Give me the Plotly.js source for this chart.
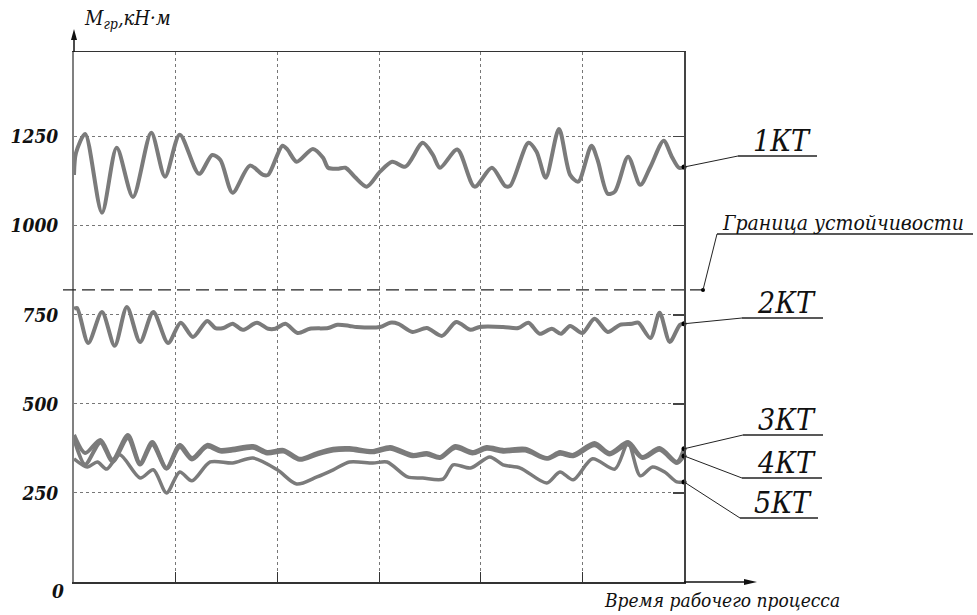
<!DOCTYPE html>
<html><head><meta charset="utf-8">
<script src="https://cdn.plot.ly/plotly-3.0.1.min.js"></script>
<style>html,body{margin:0;padding:0;background:#fff}</style>
</head><body><div id="chart" style="width:977px;height:615px"></div>
<script>
// ---- data (time in arbitrary units 0..60, moment in kN·m) ----
const t1 = [0,0.2,1.1,2.75,4.2,5.8,7.6,8.95,10.4,12.3,13.6,14.4,15.6,17.3,18.6,19.1,20.5,21.0,21.9,23.5,24.5,25.0,25.9,26.7,27.6,28.8,30.1,31.3,32.6,34.3,35.3,36.0,37.7,39.4,41.1,42.4,42.9,44.7,45.5,46.4,47.7,48.8,49.6,50.9,51.5,52.5,53.2,54.5,55.7,56.7,58.0,58.8,59.5,60];
const kt1 = [1143,1205,1258,1037,1219,1081,1261,1138,1256,1146,1199,1185,1093,1169,1143,1143,1225,1214,1180,1216,1191,1163,1160,1163,1138,1110,1152,1180,1166,1233,1199,1163,1214,1110,1163,1112,1112,1233,1208,1135,1272,1143,1124,1225,1185,1090,1096,1194,1115,1166,1239,1194,1163,1165];

const t2 = [0,0.3,1.4,2.75,4.0,5.2,6.5,7.8,9.25,10.5,11.7,13.1,13.9,14.7,15.6,16.6,18.0,19.1,19.8,20.8,22.0,23.2,25.0,25.9,27.1,27.8,30.1,31.1,31.9,33.3,34.7,36.2,37.6,39.0,39.9,42.2,43.7,44.7,45.8,47.0,47.9,48.8,50.0,51.2,52.5,53.7,54.9,55.5,56.7,57.6,58.6,59.6,60];
const kt2 = [767,769,671,758,663,772,674,758,671,728,688,733,713,713,725,708,728,711,711,725,699,711,713,722,719,716,716,728,725,702,713,691,730,708,716,716,713,728,697,711,697,719,699,739,702,722,725,728,685,756,674,722,725];

const t34 = [0,1.1,2.6,3.8,5.3,6.5,7.7,9.1,10.4,11.6,13.1,14.4,15.6,17.6,19.0,20.6,22.2,23.9,25.5,27.1,29.4,31.1,33.3,34.7,36.0,37.5,39.2,40.6,42.2,44.4,46.5,47.8,49.1,51.2,52.7,54.5,55.9,57.6,59.3,60];
const kt3 = [413,362,399,343,413,334,393,320,385,348,385,371,374,382,365,371,346,362,374,376,368,379,357,362,351,382,365,379,371,374,348,365,357,390,362,393,351,376,337,374];
const kt4 = [403,330,392,338,404,330,386,318,379,344,380,366,369,377,361,366,343,358,369,371,364,374,353,358,348,377,361,374,366,369,346,360,353,384,358,386,348,371,334,354];

const t5 = [0,1.3,2.3,3.2,4.5,6.5,7.8,9.1,10.4,11.6,13.4,15.6,17.6,20.0,21.9,23.9,25.5,27.1,29.4,30.8,32.8,34.3,36.3,37.3,39.0,40.9,42.2,43.9,46.5,47.8,49.1,51.0,53.2,54.5,55.7,56.9,58.1,59.3,60];
const kt5 = [346,323,337,317,357,292,315,250,309,284,337,334,348,315,275,295,315,337,334,337,295,292,289,329,320,351,329,320,278,309,287,346,317,390,298,323,309,281,281];

const stabilityLimit = 820;
const yTicks = [250,500,750,1000,1250];
const yTickText = ['250','500','750','1000','1250'];
const xGrid = [10,20,30,40,50];
const seriesNames = ['1КТ','2КТ','3КТ','4КТ','5КТ'];
const yMax = 1488, tMax = 60;

// ---- styling helpers (pixel -> paper for decorations) ----
const PL = 74, PR = 684, PT = 52, PB = 582;
const px = x => (x - PL) / (PR - PL);
const py = y => (PB - y) / (PB - PT);
const dv = v => v / yMax;
const SERIF = 'DejaVu Serif Condensed, DejaVu Serif';
const GRAY = '#7b7b7b';

const curve = (x, y, w) => ({x, y, type:'scatter', mode:'lines', line:{color:GRAY, width:w, shape:'spline', smoothing:0.8}, hoverinfo:'skip', showlegend:false});
const traces = [
  curve(t1, kt1, 4),
  curve(t2, kt2, 4),
  curve(t34, kt3, 4),
  curve(t34, kt4, 4),
  curve(t5, kt5, 3.5),
  {x:[tMax,tMax,tMax,tMax,tMax], y:[kt1[kt1.length-1], kt2[kt2.length-1], kt3[kt3.length-1], kt4[kt4.length-1], kt5[kt5.length-1]],
   type:'scatter', mode:'markers', marker:{color:'#000', size:5}, cliponaxis:false, yaxis:'y2', showlegend:false, hoverinfo:'skip'}
];

const shapes = [];
const seg = (x0,y0,x1,y1,w,c,dash) => shapes.push({type:'line', xref:'paper', yref:'paper', x0, y0, x1, y1, line:{color:c||'#222', width:w||1, dash:dash||'solid'}});

// stability limit
shapes.push({type:'line', xref:'paper', yref:'y', x0:px(63), x1:px(703), y0:stabilityLimit, y1:stabilityLimit, line:{color:'#222', width:1.3, dash:'13px,6px'}});
shapes.push({type:'circle', xref:'paper', yref:'paper', x0:px(701), x1:px(705), y0:dv(stabilityLimit)-2/530, y1:dv(stabilityLimit)+2/530, fillcolor:'#000', line:{width:0}});

// axis arrows (drawn as shapes)
seg(px(74), py(52), px(74), py(36), 1.5, '#111');
shapes.push({type:'path', xref:'paper', yref:'paper', path:`M ${px(71)} ${py(40)} L ${px(74)} ${py(29)} L ${px(77)} ${py(40)} Z`, fillcolor:'#111', line:{width:0}});
seg(px(684), py(582), px(748), py(582), 1.5, '#111');
shapes.push({type:'path', xref:'paper', yref:'paper', path:`M ${px(744)} ${py(579)} L ${px(757)} ${py(582)} L ${px(744)} ${py(585)} Z`, fillcolor:'#111', line:{width:0}});

// leaders: [endValue, underline start px x, underline end px x, underline px y, label]
const leaders = [
  [kt1[kt1.length-1], 738, 817, 156, seriesNames[0]],
  [kt2[kt2.length-1], 742, 823, 318, seriesNames[1]],
  [kt3[kt3.length-1], 743, 823, 435, seriesNames[2]],
  [kt4[kt4.length-1], 742, 822, 478, seriesNames[3]],
  [kt5[kt5.length-1], 740, 818, 518, seriesNames[4]]
];
const annotations = [];
leaders.forEach(([v, xa, xb, yu, name]) => {
  seg(px(PR), dv(v), px(xa), py(yu), 1, '#222');
  seg(px(xa), py(yu), px(xb), py(yu), 1.3, '#222');
  annotations.push({xref:'paper', yref:'paper', x:px((xa+xb)/2 + 4), y:py(yu), xanchor:'center', yanchor:'bottom', yshift:-4,
    text:name, showarrow:false, font:{family:SERIF, size:30, style:'italic', color:'#111'}});
});
// stability label
seg(px(703), dv(stabilityLimit), px(717), py(234), 1, '#222');
seg(px(717), py(234), px(973), py(234), 1.3, '#222');
annotations.push({xref:'paper', yref:'paper', x:px(843), y:py(234), xanchor:'center', yanchor:'bottom', yshift:-3,
  text:'Граница устойчивости', showarrow:false, font:{family:SERIF, size:21, style:'italic', color:'#111'}});

// axis titles, zero label
annotations.push({xref:'paper', yref:'paper', x:px(82), y:py(19), xanchor:'left', yanchor:'middle',
  text:'М<sub>гр</sub>,кН·м', showarrow:false, font:{family:SERIF, size:20, style:'italic', color:'#111'}});
annotations.push({xref:'paper', yref:'paper', x:px(722), y:py(600), xanchor:'center', yanchor:'middle',
  text:'Время рабочего процесса', showarrow:false, font:{family:SERIF, size:19, style:'italic', color:'#111'}});
annotations.push({xref:'paper', yref:'paper', x:px(66), y:py(591), xanchor:'right', yanchor:'middle',
  text:'0', showarrow:false, font:{family:SERIF, size:19, style:'italic', weight:'bold', color:'#111'}});

const gridStyle = {showgrid:true, gridcolor:'#777', griddash:'dot', gridwidth:1};
const layout = {
  width:977, height:615,
  margin:{l:PL, r:977-PR, t:PT, b:615-PB, pad:0},
  paper_bgcolor:'#fff', plot_bgcolor:'#fff',
  showlegend:false,
  font:{family:SERIF},
  xaxis:Object.assign({range:[0,tMax], tickmode:'array', tickvals:xGrid, showticklabels:false, ticks:'inside', ticklen:10, tickcolor:'#333', tickwidth:1,
    showline:true, linecolor:'#333', linewidth:1.5, mirror:true, zeroline:false, fixedrange:true}, gridStyle),
  yaxis:Object.assign({range:[0,yMax], tickmode:'array', tickvals:yTicks, ticktext:yTickText, ticks:'', ticklabelstandoff:10,
    tickfont:{family:SERIF, size:19, style:'italic', weight:'bold', color:'#111'},
    showline:true, linecolor:'#808080', linewidth:2, zeroline:false, fixedrange:true}, gridStyle),
  yaxis2:{overlaying:'y', side:'right', anchor:'x', range:[0,yMax], tickmode:'array', tickvals:yTicks, showticklabels:false,
    ticks:'inside', ticklen:11, tickcolor:'#444', tickwidth:1.3, showgrid:false, zeroline:false,
    showline:true, linecolor:'#444', linewidth:2, fixedrange:true},
  shapes, annotations
};
Plotly.newPlot('chart', traces, layout, {staticPlot:true, displayModeBar:false});
</script></body></html>
